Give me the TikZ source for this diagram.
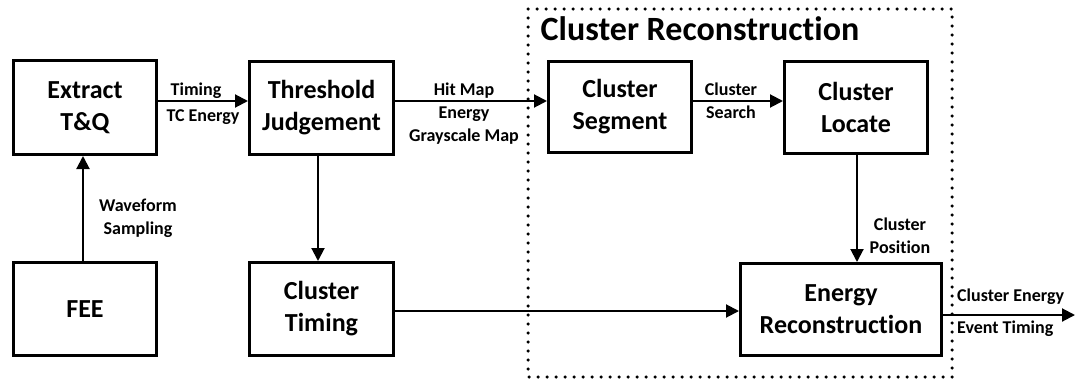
\documentclass[tikz,border=0pt]{standalone}
\usepackage{fontspec}
\setmainfont{Carlito}[Ligatures=NoCommon]
\usetikzlibrary{arrows.meta}
\begin{document}
\begin{tikzpicture}[x=1pt,y=-1pt,
  block/.style={draw, line width=3pt, align=center, inner sep=0pt,
    minimum width=143pt, minimum height=93pt,
    font=\bfseries\fontsize{26}{32}\selectfont},
  lbl/.style={inner sep=0pt, align=center, font=\bfseries\fontsize{18}{23}\selectfont},
  flow/.style={line width=2pt, -{Triangle[length=13pt,width=13pt]}},
  group/.style={line width=3.5pt, line cap=round, dash pattern=on 0pt off 9pt},
  ]
\useasboundingbox (0,0) rectangle (1076,388);

% processing blocks
\node[block, minimum height=94pt] (ext) at (85,107.5) {Extract\\T\&Q};
\node[block, minimum width=144pt] (thr) at (321.5,108) {Threshold\\Judgement};
\node[block, minimum height=91pt] (seg) at (620,107) {Cluster\\Segment};
\node[block, minimum height=92pt] (loc) at (856,107.5) {Cluster\\Locate};
\node[block] (fee) at (85,309) {FEE};
\node[block, minimum width=144pt] (ctm) at (321.5,309) {Cluster\\Timing};
\node[block, minimum width=201pt, minimum height=92pt] (er) at (841,309.5) {Energy\\Reconstruction};

% reconstruction group
\draw[group] (528,9) rectangle (952,377);
\node[inner sep=0pt, font=\bfseries\fontsize{34}{40}\selectfont] (title) at (700,29) {Cluster Reconstruction};

% data flow
\draw[flow] (fee.north -| 83,0) -- (ext.south -| 83,0);
\draw[flow] (ext.east |- 0,101) -- (thr.west |- 0,101);
\draw[flow] (thr.east |- 0,101) -- (seg.west |- 0,101);
\draw[flow] (seg.east |- 0,101) -- (loc.west |- 0,101);
\draw[flow] (thr.south -| 318,0) -- (ctm.north -| 318,0);
\draw[flow] (loc.south -| 857,0) -- (er.north -| 857,0);
\draw[flow] (ctm.east |- 0,311) -- (er.west |- 0,311);
\coordinate (out) at (1075,315);
\draw[flow] (er.east |- out) -- (out);

% connector labels
\node[lbl] (l1) at (196,91) {Timing};
\node[lbl] (l2) at (203,117) {TC Energy};
\node[lbl] (l3) at (138,218) {Waveform\\Sampling};
\node[lbl] (l4) at (464,114) {Hit Map\\Energy\\Grayscale Map};
\node[lbl] (l5) at (731,101) {Cluster\\Search};
\node[lbl] (l6) at (900,235.5) {Cluster\\Position};
\node[lbl, anchor=west] (l7) at (957,297) {Cluster Energy};
\node[lbl, anchor=west] (l8) at (957,329) {Event Timing};
\end{tikzpicture}
\end{document}
